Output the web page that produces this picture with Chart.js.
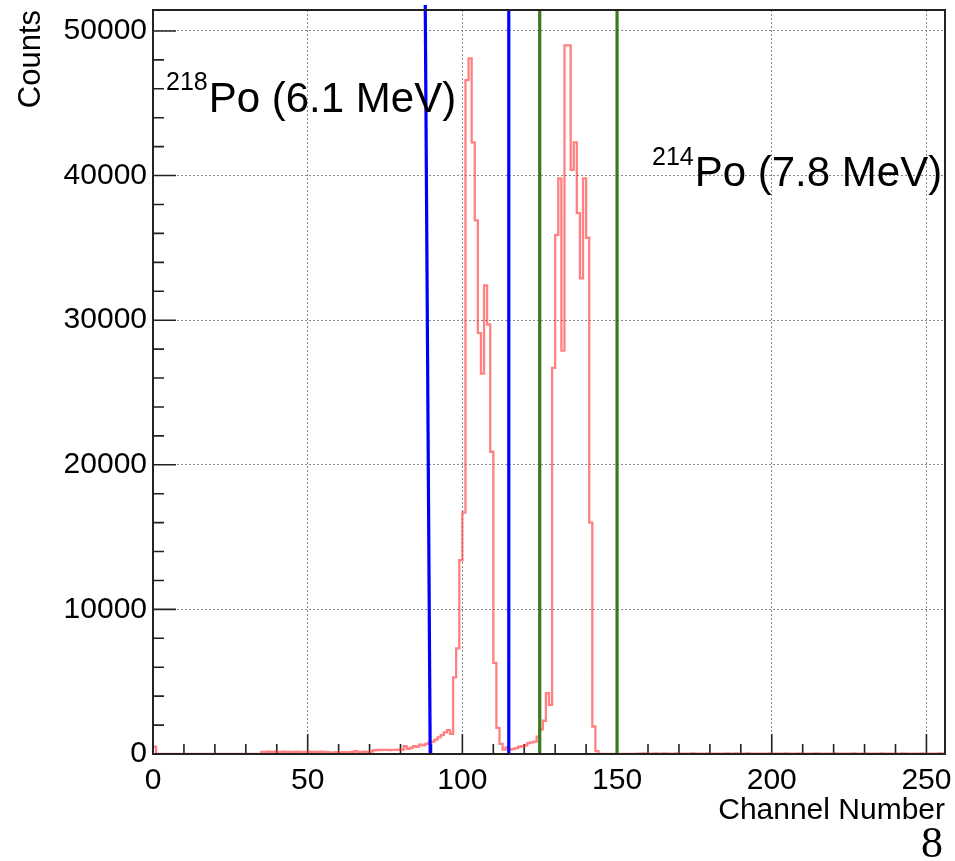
<!DOCTYPE html>
<html>
<head>
<meta charset="utf-8">
<script src="https://cdn.jsdelivr.net/npm/chart.js@4.4.0/dist/chart.umd.min.js"></script>
<style>
  html, body { margin: 0; padding: 0; background: #fff; }
</style>
</head>
<body>
<canvas id="spectrum" width="955" height="861"></canvas>
<script>
// ========================================
// Alpha spectrum (ROOT-style histogram)
// ========================================

// Counts per channel, channels 0..255 (bin i covers [i, i+1))
const counts = [
  500,   0,   0,   0,   0,   0,   0,   0,   0,   0,   0,   0,   0,   0,   0,   0,   // 0-15
    0,   0,   0,   0,   0,   0,   0,   0,   0,   0,   0,   0,   0,   0,   0,   0,   // 16-31
    0,   0,   0, 150, 140, 160, 150, 170, 150, 140, 160, 150, 150, 130, 160, 150,   // 32-47
  140, 150, 170, 150, 140, 150, 160, 140, 120, 100, 110, 120, 100, 120, 110, 130,   // 48-63
  150, 200, 150, 140, 160, 150, 170, 260, 280, 270, 290, 280, 270, 290, 280, 300,   // 64-79
  290, 550, 350, 420, 550, 500, 650, 600, 700, 800, 850, 1000, 1150, 1300, 1500, 1650, // 80-95
  1400, 5300, 7300, 13400, 16700, 46600, 48100, 42300, 36900, 29100, 26300, 32400, 29700, 20900, 6300, 1800, // 96-111
  700, 300, 450, 300, 350, 400, 500, 550, 600, 750, 800, 850, 1200, 1700, 2300, 4200, // 112-127
  3400, 26700, 35900, 39800, 27900, 49000, 49000, 40400, 42300, 37400, 32900, 39800, 35700, 16000, 1900, 200, // 128-143
    0,   0,   0,   0,   0,   0,   0,   0,   0,   0,   0,   0,  30,  25,  35,  30,   // 144-159
   20,  30,  35,  25,  30,  40,  30,  25,  30,  35,  20,  30,  30,  25,  35,  30,   // 160-175
   30,  25,  30,  35,  30,  20,  30,  30,  25,  35,  30,  30,  40,  25,  30,  30,   // 176-191
   35,  30,  25,  30,  30,  20,  30,  35,  30,  25,  30,  30,  35,  30,  25,  30,   // 192-207
   30,  40,  30,  25,  30,  30,  35,  20,  30,  30,  25,  30,  35,  30,  30,  25,   // 208-223
   30,  30,  35,  30,  25,  30,  40,  30,  30,  25,  30,  35,  30,  30,  20,  30,   // 224-239
   30,  25,  35,  30,  30,  30,  25,  30,  35,  30,  30,  25,  30,  30,  35,  30    // 240-255
];

// Cut lines (channel numbers)
const blueLineBottom = [89.6, 115];
const blueLineTop = [88.0, 115];
const greenLines = [125, 150];
const lineTopCounts = [51800, 51450];

// Axis ranges and tick labels
const xRange = [0, 256];
const yRange = [0, 51450];
const xTicks = [0, 50, 100, 150, 200, 250];
const yTicks = [0, 10000, 20000, 30000, 40000, 50000];

const FONT = '"Liberation Sans", Arial, Helvetica, sans-serif';

// Histogram outline: one point per bin centre, stepped at the bin edges
const histPoints = [{ x: xRange[0], y: counts[0] }]
  .concat(counts.map((v, i) => ({ x: i + 0.5, y: v })))
  .concat([{ x: xRange[1], y: counts[counts.length - 1] }]);

function cutLine(xBottom, xTop, yTop, color) {
  return {
    type: 'line',
    data: [{ x: xBottom, y: 0 }, { x: xTop, y: yTop }],
    borderColor: color,
    borderWidth: 3.2,
    pointRadius: 0,
    fill: false,
    clip: false,
    order: 0
  };
}

/**
 * ROOT-like frame and inward ticks, drawn from the chart scales
 */
const frameAndTicks = {
  id: 'frameAndTicks',
  beforeDatasetsDraw(chart) {
    const { ctx, chartArea: a, scales: { x, y } } = chart;
    ctx.save();
    ctx.strokeStyle = '#222';
    ctx.lineWidth = 1.6;
    ctx.beginPath();
    for (let v = 0; v <= xRange[1]; v += 10) {
      const px = x.getPixelForValue(v);
      const len = v % 50 === 0 ? 20 : 10;
      ctx.moveTo(px, a.bottom);
      ctx.lineTo(px, a.bottom - len);
    }
    for (let v = 0; v <= yRange[1]; v += 2000) {
      const py = y.getPixelForValue(v);
      const len = v % 10000 === 0 ? 23 : 11;
      ctx.moveTo(a.left, py);
      ctx.lineTo(a.left + len, py);
    }
    ctx.stroke();
    ctx.restore();
  },
  afterDatasetsDraw(chart) {
    const { ctx, chartArea: a } = chart;
    ctx.save();
    ctx.strokeStyle = '#222';
    ctx.lineWidth = 2;
    ctx.strokeRect(a.left, a.top, a.width, a.height);
    ctx.restore();
  }
};

/**
 * Peak labels and the slide number
 */
const annotations = {
  id: 'annotations',
  afterDraw(chart) {
    const ctx = chart.ctx;
    ctx.save();
    ctx.fillStyle = '#000';
    ctx.textAlign = 'left';
    ctx.textBaseline = 'alphabetic';

    const drawIsotope = (mass, rest, x, supY, baseY) => {
      ctx.font = '25px ' + FONT;
      ctx.fillText(mass, x, supY);
      const w = ctx.measureText(mass).width;
      ctx.font = '42px ' + FONT;
      ctx.fillText(rest, x + w + 1, baseY);
    };
    drawIsotope('218', 'Po (6.1 MeV)', 166, 90, 112);
    drawIsotope('214', 'Po (7.8 MeV)', 652, 165, 186);

    ctx.font = '44px "Liberation Serif", "Times New Roman", serif';
    ctx.textAlign = 'right';
    ctx.fillText('8', 943, 857);
    ctx.restore();
  }
};

const ctx = document.getElementById('spectrum').getContext('2d');
new Chart(ctx, {
  type: 'line',
  data: {
    datasets: [
      cutLine(blueLineBottom[0], blueLineTop[0], lineTopCounts[0], '#0000ff'),
      cutLine(blueLineBottom[1], blueLineTop[1], lineTopCounts[1], '#0000ff'),
      cutLine(greenLines[0], greenLines[0], lineTopCounts[1], '#3a7a1f'),
      cutLine(greenLines[1], greenLines[1], lineTopCounts[1], '#3a7a1f'),
      {
        label: 'Counts',
        data: histPoints,
        stepped: 'middle',
        borderColor: 'rgba(255, 45, 45, 0.6)',
        borderWidth: 2.3,
        pointRadius: 0,
        fill: false,
        order: 1
      }
    ]
  },
  options: {
    responsive: false,
    animation: false,
    events: [],
    layout: { padding: { top: 10, right: 10, left: 0, bottom: 0 } },
    plugins: {
      legend: { display: false },
      tooltip: { enabled: false }
    },
    scales: {
      x: {
        type: 'linear',
        min: xRange[0],
        max: xRange[1],
        afterBuildTicks: s => { s.ticks = xTicks.map(v => ({ value: v })); },
        afterFit: s => { s.height = 107; s.paddingLeft = 0; s.paddingRight = 0; },
        grid: { color: '#8a8a8a', lineWidth: 1, drawTicks: false },
        border: { display: false, dash: [2, 2] },
        ticks: {
          padding: 9,
          color: '#000',
          maxRotation: 0,
          autoSkip: false,
          callback: v => String(v),
          font: { family: FONT, size: 30 }
        },
        title: {
          display: true,
          text: 'Channel Number',
          align: 'end',
          color: '#000',
          font: { family: FONT, size: 30 },
          padding: { top: 0, bottom: 32 }
        }
      },
      y: {
        type: 'linear',
        min: yRange[0],
        max: yRange[1],
        afterBuildTicks: s => { s.ticks = yTicks.map(v => ({ value: v })); },
        afterFit: s => { s.width = 153; s.paddingTop = 0; s.paddingBottom = 0; },
        grid: { color: '#8a8a8a', lineWidth: 1, drawTicks: false },
        border: { display: false, dash: [2, 2] },
        ticks: {
          padding: 6,
          color: '#000',
          autoSkip: false,
          callback: v => String(v),
          font: { family: FONT, size: 30 }
        },
        title: {
          display: true,
          text: 'Counts',
          align: 'end',
          color: '#000',
          font: { family: FONT, size: 31 },
          padding: { top: 13, bottom: 0 }
        }
      }
    }
  },
  plugins: [frameAndTicks, annotations]
});
</script>
</body>
</html>
